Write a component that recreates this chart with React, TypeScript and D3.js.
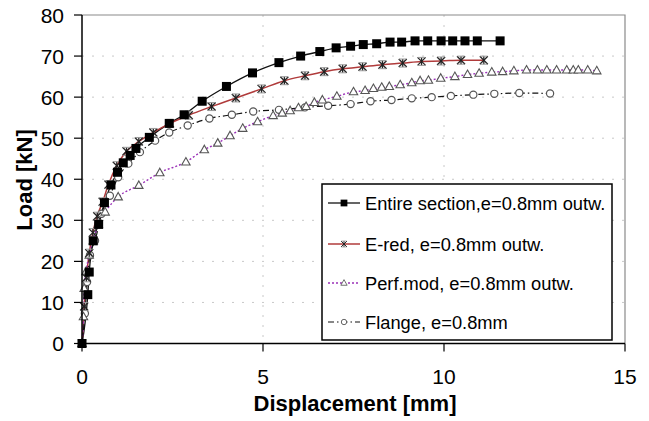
import React from "react"
import * as d3 from "d3"

// displacement [mm], load [kN]
const entireSection: [number, number][] = [
    [0, 0], [0.16, 11.9], [0.2, 17.4], [0.31, 25], [0.46, 29], [0.62, 34.3],
    [0.8, 38.6], [0.98, 41.7], [1.14, 44], [1.33, 45.8], [1.49, 47.5],
    [1.86, 50.2], [2.41, 53.6], [2.82, 55.7], [3.32, 59], [3.99, 62.6],
    [4.71, 65.9], [5.44, 68.4], [6.04, 70], [6.57, 71.1], [7.02, 72],
    [7.42, 72.4], [7.77, 72.8], [8.14, 73], [8.51, 73.4], [8.83, 73.4],
    [9.2, 73.7], [9.55, 73.7], [9.92, 73.7], [10.24, 73.7], [10.58, 73.7],
    [10.92, 73.7], [11.55, 73.7],
]
const eRed: [number, number][] = [
    [0, 0], [0.06, 9], [0.12, 16], [0.2, 22], [0.3, 27], [0.42, 31],
    [0.57, 34.5], [0.73, 38.7], [0.96, 43.3], [1.23, 46.8], [1.57, 49.2],
    [1.97, 51.4], [2.43, 53.6], [2.95, 55.6], [3.58, 57.7], [4.25, 59.8],
    [4.96, 62], [5.59, 64], [6.16, 65.2], [6.69, 66.2], [7.2, 66.9],
    [7.75, 67.4], [8.3, 67.9], [8.86, 68.3], [9.38, 68.7], [9.92, 68.8],
    [10.47, 69], [11.1, 69],
]
const perfMod: [number, number][] = [
    [0, 0], [0.04, 6.5], [0.06, 13.4], [0.11, 17.5], [0.2, 21.5], [0.31, 25],
    [0.45, 29], [0.64, 32], [1.0, 35.7], [1.57, 38.5], [2.15, 41.6],
    [2.87, 44.2], [3.38, 47.2], [3.75, 48.8], [4.09, 50.6], [4.44, 52.4],
    [4.85, 54], [5.28, 55.5], [5.53, 56.1], [5.75, 56.7], [5.98, 57.4],
    [6.19, 57.7], [6.42, 58.7], [6.64, 59.3], [7.04, 60.2], [7.5, 61.3],
    [7.82, 61.6], [8.05, 62.1], [8.28, 62.4], [8.49, 62.6], [8.79, 63],
    [9.11, 63.5], [9.34, 64], [9.57, 64.1], [9.91, 64.6], [10.3, 65],
    [10.65, 65.5], [10.97, 65.8], [11.32, 66.1], [11.62, 66.2], [11.93, 66.4],
    [12.28, 66.6], [12.58, 66.6], [12.84, 66.6], [13.11, 66.6], [13.39, 66.6],
    [13.57, 66.6], [13.71, 66.6], [13.97, 66.6], [14.22, 66.4],
]
const flange: [number, number][] = [
    [0, 0], [0.08, 7.3], [0.14, 15], [0.22, 21.5], [0.36, 25], [0.54, 31.6],
    [0.77, 36], [1.0, 40.5], [1.28, 43.8], [1.6, 46.6], [2.02, 49.4],
    [2.41, 51.4], [2.92, 53.1], [3.52, 54.8], [4.14, 55.7], [4.73, 56.5],
    [5.44, 56.9], [6.16, 57.5], [6.8, 57.9], [7.42, 58.3], [7.97, 59],
    [8.55, 59.3], [9.11, 59.7], [9.66, 60], [10.19, 60.3], [10.81, 60.6],
    [11.39, 60.8], [12.08, 61], [12.93, 60.9],
]

const xTicks = [0, 5, 10, 15]
const yTicks = [0, 10, 20, 30, 40, 50, 60, 70, 80]
const legendLabels = [
    "Entire section,e=0.8mm outw.",
    "E-red, e=0.8mm outw.",
    "Perf.mod, e=0.8mm outw.",
    "Flange, e=0.8mm",
]

const FONT = "'Liberation Sans', Arial, sans-serif"

type Kind = "square" | "star" | "triangle" | "circle"

const Marker = ({ kind, x, y }: { kind: Kind; x: number; y: number }) => {
    if (kind === "square")
        return <rect x={x - 4.5} y={y - 4.5} width={9} height={9} fill="#000" />
    if (kind === "star")
        return (
            <g stroke="#222" strokeWidth={1.3}>
                <line x1={x - 4} y1={y - 4} x2={x + 4} y2={y + 4} />
                <line x1={x - 4} y1={y + 4} x2={x + 4} y2={y - 4} />
                <line x1={x} y1={y - 4} x2={x} y2={y + 4} />
                <line x1={x - 3.5} y1={y - 4} x2={x + 3.5} y2={y - 4} stroke="#999" strokeWidth={1} />
                <line x1={x - 3.5} y1={y + 4} x2={x + 3.5} y2={y + 4} stroke="#999" strokeWidth={1} />
            </g>
        )
    if (kind === "triangle")
        return (
            <path
                d={`M${x},${y - 4.5}L${x + 4.2},${y + 3}L${x - 4.2},${y + 3}Z`}
                fill="#fff"
                stroke="#555"
                strokeWidth={1.1}
            />
        )
    return <circle cx={x} cy={y} r={3.6} fill="#fff" stroke="#555" strokeWidth={1.2} />
}

const series = [
    { data: entireSection, color: "#111", dash: undefined, width: 1.3, kind: "square" as Kind },
    { data: eRed, color: "#b03b3b", dash: undefined, width: 1.5, kind: "star" as Kind },
    { data: perfMod, color: "#9b30b8", dash: "2,2", width: 1.4, kind: "triangle" as Kind },
    { data: flange, color: "#111", dash: "6,3,1.5,3", width: 1.2, kind: "circle" as Kind },
]

export default function App() {
    const W = 649
    const H = 421
    const left = 82
    const right = 625
    const top = 15
    const bottom = 343.5

    const x = d3.scaleLinear().domain([0, 15]).range([left, right])
    const y = d3.scaleLinear().domain([0, 80]).range([bottom, top])
    const line = d3
        .line<[number, number]>()
        .x((d) => x(d[0]))
        .y((d) => y(d[1]))
        .curve(d3.curveMonotoneX)

    const lx = 322
    const ly = 184
    const lw = 290
    const lh = 156
    const rowY = [203, 244, 283, 322]

    return (
        <svg
            width={W}
            height={H}
            style={{ position: "absolute", left: 0, top: 0, background: "#fff" }}
            fontFamily={FONT}
        >
            {/* grid */}
            {yTicks.slice(1, -1).map((t) => (
                <line key={"gy" + t} x1={left} x2={right} y1={y(t)} y2={y(t)}
                    stroke="#c8c8c8" strokeDasharray="2,8" />
            ))}
            {xTicks.slice(1, -1).map((t) => (
                <line key={"gx" + t} x1={x(t)} x2={x(t)} y1={top} y2={bottom}
                    stroke="#c8c8c8" strokeDasharray="2,8" />
            ))}
            {/* frame */}
            <path d={`M${left},${top}H${right}V${bottom}`} fill="none" stroke="#8a8a8a" strokeWidth={1.2} />

            {/* series */}
            {series.map((s, i) => (
                <g key={"s" + i}>
                    <path d={line(s.data) || ""} fill="none" stroke={s.color}
                        strokeWidth={s.width} strokeDasharray={s.dash} />
                </g>
            ))}
            {series.slice().reverse().map((s, i) => (
                <g key={"m" + i}>
                    {s.data.map((d, j) => (
                        <Marker key={j} kind={s.kind} x={x(d[0])} y={y(d[1])} />
                    ))}
                </g>
            ))}

            {/* axes */}
            <line x1={left} x2={left} y1={top} y2={bottom} stroke="#000" strokeWidth={1.5} />
            <line x1={left} x2={right} y1={bottom} y2={bottom} stroke="#000" strokeWidth={1.5} />
            {yTicks.map((t) => (
                <g key={"ty" + t}>
                    <line x1={left - 8} x2={left} y1={y(t)} y2={y(t)} stroke="#000" strokeWidth={1.2} />
                    <text x={64} y={y(t) + 7.5} textAnchor="end" fontSize={21} fill="#000">{t}</text>
                </g>
            ))}
            {xTicks.map((t) => (
                <g key={"tx" + t}>
                    <line x1={x(t)} x2={x(t)} y1={bottom} y2={bottom + 8} stroke="#000" strokeWidth={1.2} />
                    <text x={x(t)} y={384} textAnchor="middle" fontSize={21} fill="#000">{t}</text>
                </g>
            ))}
            <text x={355} y={411} textAnchor="middle" fontSize={22} fontWeight="bold">Displacement [mm]</text>
            <text transform={`translate(32,180) rotate(-90)`} textAnchor="middle"
                fontSize={22} fontWeight="bold">Load [kN]</text>

            {/* legend */}
            <rect x={lx} y={ly} width={lw} height={lh} fill="#fff" stroke="#000" strokeWidth={1.5} />
            {series.map((s, i) => (
                <g key={"l" + i}>
                    <line x1={lx + 6} x2={lx + 38} y1={rowY[i]} y2={rowY[i]} stroke={s.color}
                        strokeWidth={s.width} strokeDasharray={s.dash} />
                    <g transform={`translate(${lx + 22},${rowY[i]}) scale(0.75) translate(${-(lx + 22)},${-rowY[i]})`}>
                        <Marker kind={s.kind} x={lx + 22} y={rowY[i]} />
                    </g>
                    <text x={lx + 43} y={rowY[i] + 6.5} fontSize={18.3} fill="#000">{legendLabels[i]}</text>
                </g>
            ))}
        </svg>
    )
}
